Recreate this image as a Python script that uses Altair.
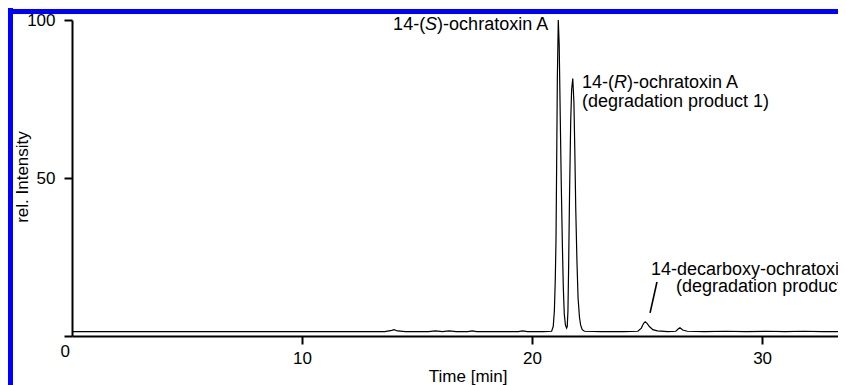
import altair as alt
import pandas as pd

# ---- chromatogram trace (time in min, relative intensity) ----
time = [0.0, 4.0, 8.0, 12.0, 13.6, 13.9, 14.0, 14.15, 14.5, 15.5, 15.8, 16.1,
        16.4, 16.7, 17.2, 17.4, 17.6, 18.5, 19.4, 19.6, 19.8, 20.5,
        20.85, 20.92, 20.97, 21.01, 21.04, 21.07, 21.10, 21.14, 21.18, 21.22,
        21.27, 21.32, 21.36, 21.40, 21.45, 21.50, 21.53, 21.56, 21.59, 21.63,
        21.68, 21.72, 21.77, 21.82, 21.86, 21.90, 21.95, 22.00, 22.06, 22.11,
        22.18, 22.28, 23.0, 24.0, 24.6, 24.75, 24.85, 24.92, 25.0, 25.1,
        25.25, 25.45, 25.9, 26.25, 26.35, 26.43, 26.55, 26.75, 27.5, 28.4,
        29.3, 30.2, 31.0, 31.8, 32.6, 33.3]
intensity = [1.4, 1.4, 1.4, 1.4, 1.4, 1.8, 2.0, 1.6, 1.4, 1.4, 1.6, 1.4,
             1.6, 1.4, 1.4, 1.6, 1.4, 1.4, 1.4, 1.6, 1.4, 1.4,
             1.5, 3.0, 8.0, 18.0, 30.0, 55.0, 82.0, 100.0, 92.0, 72.0,
             48.0, 28.0, 15.0, 7.0, 3.5, 2.5, 3.0, 8.0, 22.0, 45.0,
             68.0, 78.0, 81.5, 74.0, 58.0, 40.0, 24.0, 12.0, 6.0, 3.5,
             2.0, 1.5, 1.4, 1.4, 1.5, 2.5, 4.0, 4.5, 4.0, 3.0,
             2.0, 1.6, 1.4, 1.5, 2.2, 2.6, 1.9, 1.5, 1.4, 1.5,
             1.4, 1.5, 1.4, 1.5, 1.4, 1.4]

# ---- annotation texts ----
ann_text = ["14-(", "S", ")-ochratoxin A",
            "14-(", "R", ")-ochratoxin A", "(degradation product 1)",
            "14-decarboxy-ochratoxin A", "(degradation product 2)"]
ann_time = [13.96, 13.96, 13.96, 22.17, 22.17, 22.17, 22.17, 25.17, 26.26]
ann_int = [96.8, 96.8, 96.8, 78.5, 78.5, 78.5, 72.5, 19.3, 13.9]
ann_style = ["normal", "italic", "normal", "normal", "italic", "normal",
             "normal", "normal", "normal"]
ann_dx = [0, 32.0, 44.0, 0, 32.0, 45.0, 0, 0, 0]

# pointer line for the small peak
ptr_t = [25.43]
ptr_t2 = [25.13]
ptr_v = [17.1]
ptr_v2 = [7.3]

x_ticks = [0, 10, 20, 30]
y_ticks = [0, 50, 100]
X_MAX = 33.30

FONT = "Liberation Sans"

trace = pd.DataFrame({"t": time, "v": intensity})
ann = pd.DataFrame({"t": ann_time, "v": ann_int, "text": ann_text,
                    "style": ann_style, "dx": ann_dx})
ptr = pd.DataFrame({"t": ptr_t, "t2": ptr_t2, "v": ptr_v, "v2": ptr_v2})
one = pd.DataFrame({"a": [0]})

x_scale = alt.Scale(domain=[0, X_MAX], nice=False, zero=False)
y_scale = alt.Scale(domain=[0, 100], nice=False)

x_axis = alt.Axis(
    values=x_ticks, title="Time [min]", grid=False,
    labelOffset={"condition": {"test": "datum.value === 0", "value": -12}, "value": 0},
    labelPadding={"condition": {"test": "datum.value === 0", "value": -1}, "value": 6},
    tickOpacity={"condition": {"test": "datum.value === 0", "value": 0}, "value": 1},
    titlePadding=2, titleX=395.7, titleAlign="center",
)
y_axis = alt.Axis(
    values=y_ticks, title="rel. Intensity", grid=False,
    labelExpr="datum.value == 0 ? '' : datum.label",
    labelPadding=9, titleX=-50, titleY=156.5, titleAngle=270,
    titleAlign="center", titleBaseline="middle",
)

line = alt.Chart(trace).mark_line(color="black", strokeWidth=1.2).encode(
    x=alt.X("t:Q", scale=x_scale, axis=x_axis),
    y=alt.Y("v:Q", scale=y_scale, axis=y_axis),
)

texts = []
for i in range(len(ann_text)):
    row = ann.iloc[[i]]
    texts.append(
        alt.Chart(row).mark_text(
            align="left", baseline="alphabetic", font=FONT, fontSize=18,
            fontStyle=ann_style[i], dx=float(ann_dx[i]), color="black",
        ).encode(x=alt.X("t:Q", scale=x_scale), y=alt.Y("v:Q", scale=y_scale),
                 text="text:N")
    )

pointer = alt.Chart(ptr).mark_rule(color="black", strokeWidth=1.6).encode(
    x=alt.X("t:Q", scale=x_scale), x2="t2:Q",
    y=alt.Y("v:Q", scale=y_scale), y2="v2:Q",
)

# blue frame of the figure (top and left edges)
frame_left = alt.Chart(one).mark_rule(color="#0000FF", strokeWidth=5).encode(
    x=alt.value(-61.5), y=alt.value(-12), y2=alt.value(370))
frame_top = alt.Chart(one).mark_rule(color="#0000FF", strokeWidth=5).encode(
    y=alt.value(-8.5), x=alt.value(-64), x2=alt.value(790))

chart = alt.layer(line, pointer, *texts, frame_left, frame_top).properties(
    width=766, height=316,
    padding={"left": 64, "top": 12, "right": 0, "bottom": 49},
    autosize=alt.AutoSizeParams(type="none"),
).configure_view(strokeWidth=0).configure_axis(
    domainColor="black", domainWidth=2, tickColor="black", tickWidth=2,
    tickSize=8, labelFont=FONT, labelFontSize=17, labelColor="black",
    titleFont=FONT, titleFontSize=17, titleFontWeight="normal",
    titleColor="black",
)

chart.save("out.html", embed_options={"renderer": "svg", "actions": False})
